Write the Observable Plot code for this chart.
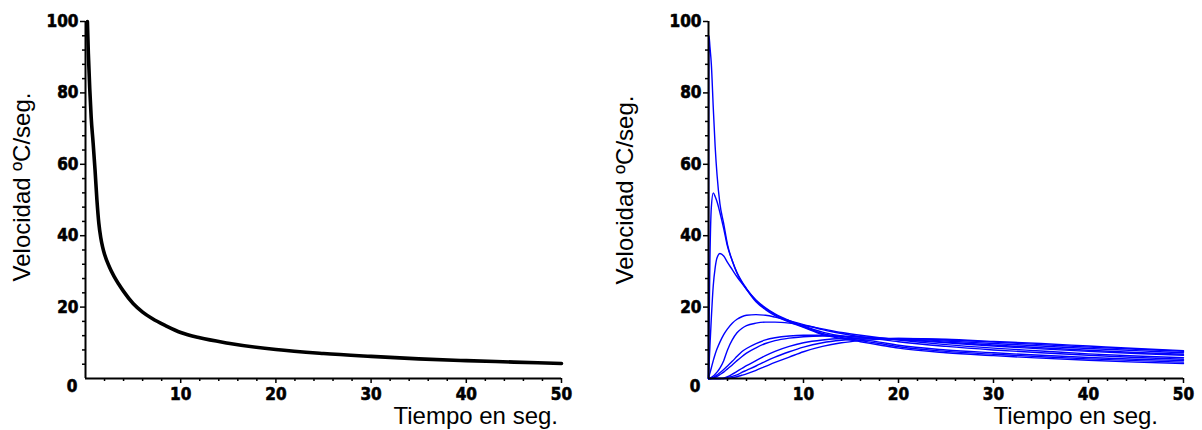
<!DOCTYPE html>
<html>
<head>
<meta charset="utf-8">
<script src="https://cdn.jsdelivr.net/npm/d3@7"></script>
<script src="https://cdn.jsdelivr.net/npm/@observablehq/plot@0.6"></script>
<style>
  html, body { margin: 0; padding: 0; background: #ffffff; }
  #wrap { position: relative; width: 1202px; height: 430px; background: #ffffff; overflow: hidden; }
  #wrap svg { position: absolute; top: 0; }
  #wrap svg g[aria-label$="tick label"] text { font-stretch: condensed; stroke: black; stroke-width: 0.6px; }
  .ttl { position: absolute; font-family: 'Liberation Sans', Arial, Helvetica, sans-serif; font-size: 24px;
         line-height: 1; white-space: nowrap; color: black; }
</style>
</head>
<body>
<div id="wrap"></div>
<script>
// ---------- data ----------
const xLabel = "Tiempo en seg.";
const yLabel = "Velocidad ºC/seg.";
const xMajor = [10, 20, 30, 40, 50];
const xMinor = [2, 4, 6, 8, 12, 14, 16, 18, 22, 24, 26, 28, 32, 34, 36, 38, 42, 44, 46, 48];
const yMajor = [20, 40, 60, 80, 100];
const yMinor = [4, 8, 12, 16, 24, 28, 32, 36, 44, 48, 52, 56, 64, 68, 72, 76, 84, 88, 92, 96];
const yZero = [0];

// left chart: single curve
const tLeft = [0.2, 0.3, 0.45, 0.6, 0.8, 1.0, 1.2, 1.4, 1.6, 1.8, 2, 2.5, 3, 3.5, 4, 5, 6, 7, 8.5, 10, 12, 15, 20, 25, 30, 35, 40, 45, 50];
const vLeft = [100, 91, 81, 73, 66, 58.5, 50, 43.5, 39.5, 36.8, 34.8, 31.3, 28.6, 26.4, 24.4, 21, 18.6, 16.8, 14.7, 12.9, 11.4, 9.9, 8.1, 7, 6.2, 5.5, 5, 4.6, 4.2];

// right chart: family of curves on a shared time grid
const tRight = [0, 0.05, 0.15, 0.3, 0.5, 0.7, 0.9, 1.2, 1.6, 2, 2.5, 3, 3.5, 4, 5, 6, 7, 8.5, 10, 12, 14, 16, 18, 20, 25, 30, 35, 40, 45, 50];
const curveA = [0, 96, 93, 88, 76, 65, 57, 49, 43.4, 37.5, 33, 29.5, 27, 25, 21.5, 19.3, 17.6, 15.8, 14.3, 12.3, 11.2, 10.3, 9.4, 8.5, 7.2, 6.4, 5.7, 5.1, 4.6, 4.2];
const curveB = [0, 12, 33, 48, 52, 51, 49.5, 46.5, 42, 37, 33, 29.7, 27.2, 25.2, 21.8, 19.6, 17.9, 16, 14.5, 12.6, 11.5, 10.6, 9.8, 8.9, 7.6, 6.8, 6.1, 5.5, 5, 4.6];
const curveC = [0, 3, 9, 17, 26, 31, 33.8, 35, 34.3, 32.5, 30.5, 28.5, 26.7, 25, 22, 19.8, 18.1, 16.2, 14.7, 13, 11.9, 11, 10.2, 9.3, 8, 7.2, 6.5, 5.9, 5.4, 5];
const curveD = [0, 0.5, 1.5, 3, 5, 6.8, 8.3, 10.2, 12.3, 13.9, 15.5, 16.6, 17.3, 17.7, 17.9, 17.7, 17.2, 16.2, 15.1, 13.7, 12.6, 11.7, 11, 10.3, 9, 8, 7.2, 6.5, 5.9, 5.4];
const curveE = [0, 0, 0.1, 0.3, 0.7, 1.2, 1.8, 2.9, 5, 8, 10.8, 12.8, 14, 14.8, 15.5, 15.8, 15.8, 15.5, 14.9, 13.9, 12.9, 12.1, 11.4, 10.8, 9.5, 8.5, 7.7, 6.9, 6.3, 5.8];
const curveF = [0, 0, 0, 0.1, 0.3, 0.6, 1, 1.6, 2.5, 3.5, 4.8, 6.2, 7.5, 8.4, 9.8, 10.8, 11.4, 11.9, 12.1, 12.1, 11.9, 11.6, 11.2, 10.9, 10, 9.1, 8.3, 7.6, 7, 6.5];
const curveG = [0, 0, 0, 0, 0.1, 0.3, 0.6, 1.1, 1.8, 2.7, 3.8, 5, 6.1, 7.1, 8.6, 9.8, 10.6, 11.3, 11.7, 11.9, 11.8, 11.6, 11.3, 11, 10.2, 9.4, 8.6, 7.9, 7.3, 6.8];
const curveH = [0, 0, 0, 0, 0, 0, 0, 0, 0, 0.3, 0.6, 1, 1.7, 2.3, 3.5, 4.8, 6, 7.5, 8.8, 10, 10.7, 11.1, 11.2, 11.2, 10.8, 10.2, 9.5, 8.8, 8.2, 7.6];
const curveI = [0, 0, 0, 0, 0, 0, 0, 0, 0, 0, 0.2, 0.5, 0.9, 1.3, 2.3, 3.4, 4.5, 6, 7.5, 9, 10, 10.6, 11, 11.2, 11, 10.4, 9.8, 9.1, 8.4, 7.8];
const curveJ = [0, 0, 0, 0, 0, 0, 0, 0, 0.1, 0.5, 1.2, 2, 2.8, 3.6, 5, 6.4, 7.6, 9, 10, 10.8, 11.2, 11.3, 11.2, 11.1, 10.5, 9.8, 9.1, 8.4, 7.8, 7.2];
const rightCurves = {A: curveA, B: curveB, C: curveC, D: curveD, E: curveE, F: curveF, G: curveG, H: curveH, I: curveI, J: curveJ};

// ---------- build ----------
const tickFont = "'DejaVu Sans Condensed', 'DejaVu Sans', sans-serif";

function axisMarks() {
  return [
    Plot.ruleY([0], {x1: 0, x2: 50, stroke: "black", strokeWidth: 2}),
    Plot.ruleX([0], {y1: 0, y2: 100, stroke: "black", strokeWidth: 2}),
    Plot.axisY(yMinor, {tickSize: 3, tickFormat: () => "", strokeWidth: 1.5, label: null}),
    Plot.axisY(yMajor, {tickSize: 5, tickPadding: 2, strokeWidth: 1.5, label: null,
      fontSize: 17, fontFamily: tickFont, fontWeight: "bold"}),
    Plot.axisY(yZero, {tickSize: 0, tickPadding: 8, dy: 8, label: null,
      fontSize: 17, fontFamily: tickFont, fontWeight: "bold"}),
    Plot.axisX(xMinor, {tickSize: 3, tickFormat: () => "", strokeWidth: 1.5, label: null}),
    Plot.axisX(xMajor, {tickSize: 5, tickPadding: 4, strokeWidth: 1.5, label: null,
      fontSize: 17, fontFamily: tickFont, fontWeight: "bold"})
  ];
}

const leftData = tLeft.map((t, i) => ({t, v: vLeft[i]}));
const left = Plot.plot({
  width: 600, height: 430,
  marginLeft: 85, marginRight: 39, marginTop: 21, marginBottom: 52,
  x: {domain: [0, 50], label: null},
  y: {domain: [0, 100], label: null},
  style: {background: "transparent", color: "black", overflow: "visible"},
  marks: [
    Plot.line(leftData, {x: "t", y: "v", stroke: "black", strokeWidth: 3.6, curve: "monotone-x"}),
    ...axisMarks()
  ]
});
left.style.left = "0px";

const rightData = [];
for (const [name, vals] of Object.entries(rightCurves)) {
  tRight.forEach((t, i) => rightData.push({curve: name, t, v: vals[i]}));
}
const right = Plot.plot({
  width: 602, height: 430,
  marginLeft: 108, marginRight: 19, marginTop: 21, marginBottom: 52,
  x: {domain: [0, 50], label: null},
  y: {domain: [0, 100], label: null},
  style: {background: "transparent", color: "black", overflow: "visible"},
  marks: [
    Plot.line(rightData, {x: "t", y: "v", z: "curve", stroke: "#0000ff", strokeWidth: 1.4, curve: "monotone-x"}),
    ...axisMarks()
  ]
});
right.style.left = "600px";

const wrap = document.getElementById("wrap");
wrap.appendChild(left);
wrap.appendChild(right);

// axis titles
function addTitle(text, left, top, transform) {
  const d = document.createElement("div");
  d.className = "ttl";
  d.textContent = text;
  d.style.left = left + "px";
  d.style.top = top + "px";
  d.style.transform = transform;
  wrap.appendChild(d);
}
addTitle(xLabel, 558, 403.5, "translateX(-100%)");
addTitle(xLabel, 1158, 403.5, "translateX(-100%)");
addTitle(yLabel, 22, 187, "translate(-50%, -50%) rotate(-90deg)");
addTitle(yLabel, 625, 190, "translate(-50%, -50%) rotate(-90deg)");
</script>
</body>
</html>
